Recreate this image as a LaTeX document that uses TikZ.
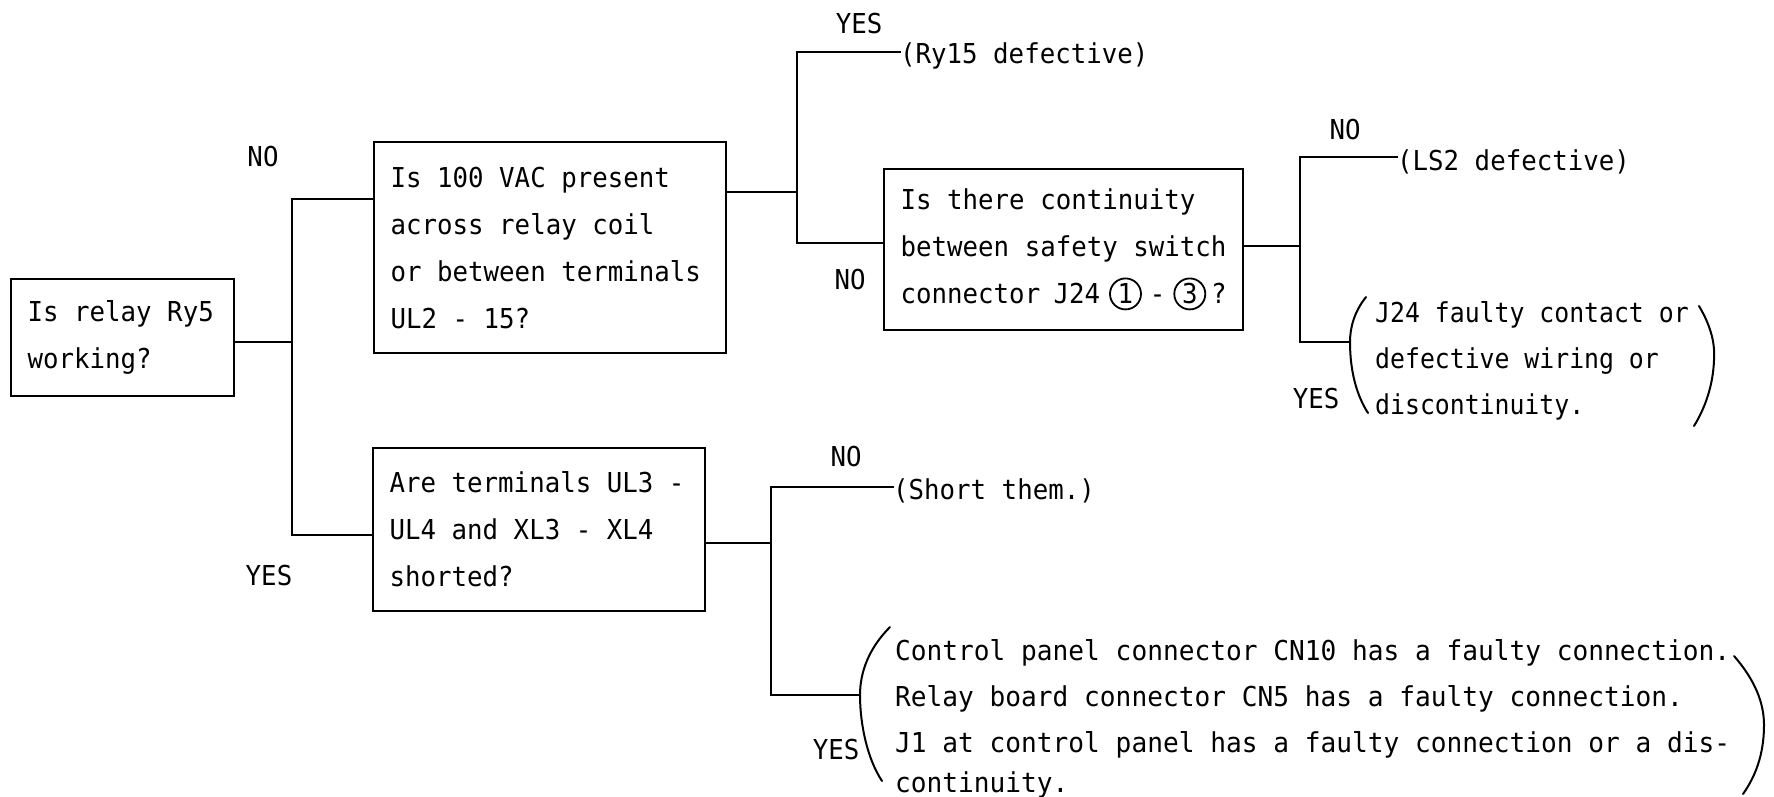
\documentclass[tikz,border=0pt]{standalone}
\usepackage{fontspec}
\newfontfamily\tw[FakeStretch=0.94]{DejaVu Sans Mono}
\newfontfamily\twn[FakeStretch=0.905]{DejaVu Sans Mono}
\newfontfamily\tww[FakeStretch=0.955]{DejaVu Sans Mono}
\newcommand{\fs}[1]{\fontsize{27.4pt}{#1pt}\selectfont}
\newcommand{\ms}{\spaceskip=0pt\xspaceskip=0pt\relax}
\newcommand{\cnum}[2]{\tikz[baseline=(#1.base)]\node[circle,draw,line width=1.8pt,inner sep=0pt,text width={},align=center,minimum size=31pt,anchor=center](#1){#2};}
\tikzset{
  qbox/.style={draw, line width=2.4pt, anchor=north west, align=left, inner xsep=16.5pt, inner ysep=0pt},
  txt/.style={anchor=west, inner sep=0pt, align=left},
  lbl/.style={anchor=center, inner sep=0pt},
  wire/.style={line width=2.6pt, line cap=rect},
  paren/.style={line width=2pt, line cap=round}
}
\begin{document}
\begin{tikzpicture}[x=1pt,y=-1pt,font={\tw\fs{47}}]
\useasboundingbox[fill=white] (0,0) rectangle (1774,796);

% question boxes
\node[qbox, minimum width=223pt, minimum height=117pt, text width=190pt] (A) at (10,278)
  {\ms Is relay Ry5\\working?};
\node[qbox, minimum width=352pt, minimum height=211pt, text width=319pt] (B) at (373,141)
  {\ms Is 100 VAC present\\across relay coil\\or between terminals\\UL2 - 15?};
\node[qbox, minimum width=332pt, minimum height=163pt, text width=299pt] (C) at (372,447)
  {\ms Are terminals UL3 -\\UL4 and XL3 - XL4\\shorted?};
\node[qbox, minimum width=359pt, minimum height=161pt, text width=326pt] (D) at (883,168)
  {\ms Is there continuity\\between safety switch\\connector J24\kern9pt\cnum{c1}{1}\kern8pt-\kern8pt\cnum{c3}{3}\kern5pt?};

% outcomes
\node[txt] (ry15) at (900,56) {(Ry15 defective)};
\node[txt] (ls2) at (1397,162) {(LS2 defective)};
\node[txt] (short) at (893,491) {(Short them.)};
\node[txt, font={\twn\fs{46}}] (j24) at (1375,361) {J24 faulty contact or\\defective wiring or\\discontinuity.};
\node[txt, font={\tww\fs{46}}] (ctrl) at (895,719) {Control panel connector CN10 has a faulty connection.\\Relay board connector CN5 has a faulty connection.\\J1 at control panel has a faulty connection or a dis-\\[-6pt]continuity.};

% labels
\node[lbl] (noA) at (263,157) {NO};
\node[lbl] (yesA) at (269,576) {YES};
\node[lbl] (yesB) at (859,24) {YES};
\node[lbl] (noB) at (850,280) {NO};
\node[lbl] (noD) at (1345,130) {NO};
\node[lbl] (yesD) at (1316,399) {YES};
\node[lbl] (noC) at (846,457) {NO};
\node[lbl] (yesC) at (836,750) {YES};

% junction points
\coordinate (j1m) at (292,342);
\coordinate (j1t) at (292,199);
\coordinate (j1b) at (292,535);
\coordinate (j2m) at (797,192);
\coordinate (j2t) at (797,52);
\coordinate (j2b) at (797,243);
\coordinate (j3m) at (1300,246);
\coordinate (j3t) at (1300,157);
\coordinate (j3b) at (1300,342);
\coordinate (j4m) at (771,543);
\coordinate (j4t) at (771,487);
\coordinate (j4b) at (771,695);
\coordinate (pl1) at (1350,342);
\coordinate (pl2) at (860,695);

% connectors
\draw[wire] (A.east |- j1m) -- (j1m);
\draw[wire] (B.west |- j1t) -- (j1t) -- (j1b) -- (C.west |- j1b);
\draw[wire] (B.east |- j2m) -- (j2m);
\draw[wire] (ry15.west |- j2t) -- (j2t) -- (j2b) -- (D.west |- j2b);
\draw[wire] (D.east |- j3m) -- (j3m);
\draw[wire] (ls2.west |- j3t) -- (j3t) -- (j3b) -- (pl1);
\draw[wire] (C.east |- j4m) -- (j4m);
\draw[wire] (short.west |- j4t) -- (j4t) -- (j4b) -- (pl2);

% parentheses
\draw[paren] (1366,297) .. controls (1354,312) and (1350,328) .. (pl1)
  .. controls (1350,372) and (1357,396) .. (1368,413);
\draw[paren] (1699,306) .. controls (1712,328) and (1715,345) .. (1714,360)
  .. controls (1713,386) and (1705,408) .. (1694,426);
\draw[paren] (890,627) .. controls (869,648) and (860,672) .. (pl2)
  .. controls (860,726) and (868,760) .. (882,781);
\draw[paren] (1734,656) .. controls (1755,680) and (1764,703) .. (1764,725)
  .. controls (1764,755) and (1755,777) .. (1743,794);
\end{tikzpicture}
\end{document}
